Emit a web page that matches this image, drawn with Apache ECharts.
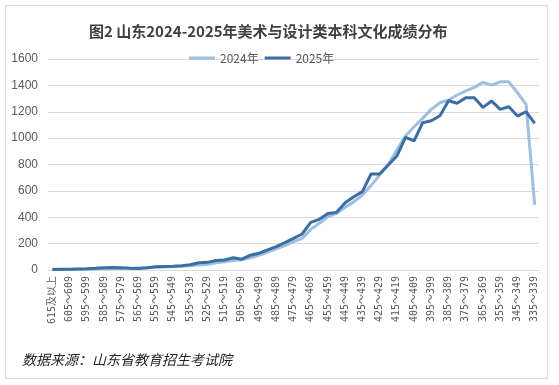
<!DOCTYPE html>
<html><head><meta charset="utf-8">
<script src="https://cdn.jsdelivr.net/npm/echarts@6/dist/echarts.min.js"></script>
<style>html,body{margin:0;padding:0;background:#fff}#c{width:559px;height:385px}</style>
</head><body><div id="c"></div>
<script>
var categories = ["615及以上"];
for (var s = 610; s >= 335; s -= 5) categories.push(s + "～" + (s + 4));

var series2024 = [5,3,4,5,6,8,9,11,12,14,16,18,20,22,25,28,32,38,42,55,62,72,78,92,112,135,160,185,215,240,308,354,404,430,475,518,568,640,720,800,910,1016,1086,1150,1218,1268,1289,1327,1359,1385,1423,1402,1427,1427,1344,1256,493];
var series2025 = [4,5,6,8,10,13,17,19,18,14,12,17,24,27,28,33,40,55,58,72,76,93,82,112,127,152,177,207,240,273,361,384,428,437,510,556,594,728,728,796,864,1006,980,1117,1132,1170,1283,1264,1306,1306,1233,1281,1218,1238,1167,1200,1112];
var legendNames = ["2024年", "2025年"];
var yTicks = {min: 0, max: 1600, interval: 200};

var chart = echarts.init(document.getElementById('c'));
chart.setOption({
  animation: false,
  backgroundColor: '#fff',
  title: {
    text: '图2 山东2024-2025年美术与设计类本科文化成绩分布',
    left: 84, top: 19,
    textStyle: {fontFamily: 'Noto Sans CJK SC', fontSize: 15, fontWeight: 'bold', color: '#404040'}
  },
  legend: {
    top: 47, left: 184, itemWidth: 26, itemHeight: 3, itemGap: 6,
    icon: 'rect',
    textStyle: {fontFamily: 'Noto Sans CJK SC', fontSize: 12, color: '#595959'},
    data: legendNames
  },
  grid: {left: 48, right: 20, top: 59, bottom: 115},
  xAxis: {
    type: 'category', data: categories, boundaryGap: true,
    axisLine: {lineStyle: {color: '#d9d9d9'}},
    axisTick: {show: false},
    axisLabel: {interval: 1, rotate: 90, fontSize: 10, color: '#595959', fontFamily: 'DejaVu Sans Mono, Noto Sans CJK SC', margin: 6}
  },
  yAxis: {
    type: 'value', min: yTicks.min, max: yTicks.max, interval: yTicks.interval,
    axisLine: {show: false}, axisTick: {show: false},
    axisLabel: {fontSize: 12, color: '#595959', fontFamily: 'Liberation Sans', margin: 10, formatter: function (v) { return String(v); }},
    splitLine: {lineStyle: {color: '#d9d9d9'}}
  },
  series: [
    {name: legendNames[0], type: 'line', data: series2024, symbol: 'none',
     lineStyle: {width: 3, color: '#9EBFDE'}, itemStyle: {color: '#9EBFDE'}},
    {name: legendNames[1], type: 'line', data: series2025, symbol: 'none',
     lineStyle: {width: 3, color: '#3A6EA5'}, itemStyle: {color: '#3A6EA5'}}
  ],
  graphic: [
    {type: 'rect', shape: {x: 5.5, y: 5.5, width: 542, height: 373}, style: {fill: null, stroke: '#d9d9d9', lineWidth: 1}, silent: true},
    {type: 'text', left: 22, top: 353, style: {text: '数据来源：山东省教育招生考试院', fontFamily: 'Noto Sans CJK SC', fontSize: 14, fontStyle: 'italic', fill: '#262626'}}
  ]
});
</script></body></html>
